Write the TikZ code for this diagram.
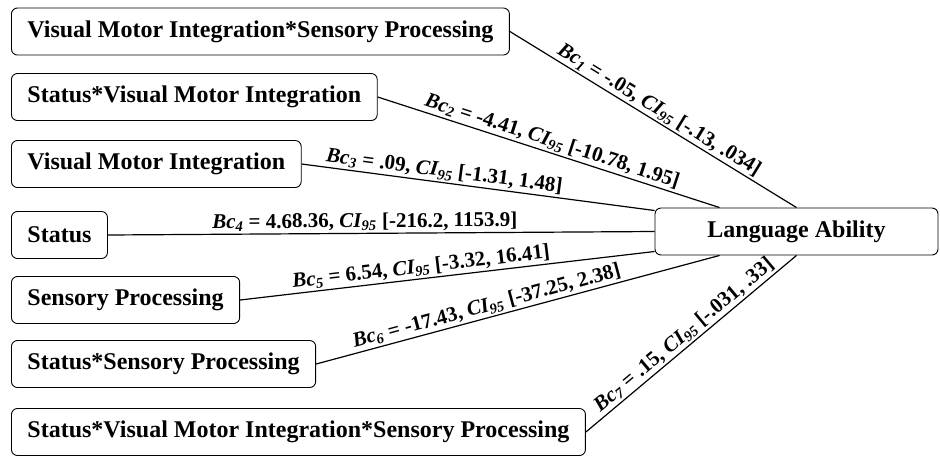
\documentclass[tikz,border=0pt]{standalone}
\usepackage{fontspec}
\setmainfont{Liberation Serif}
\newcommand{\bcval}[1]{\textit{Bc\textsubscript{#1}}}
\newcommand{\cinf}{\textit{CI\textsubscript{95}}}
\begin{document}
\begin{tikzpicture}[x=1pt,y=-1pt,
	predbox/.style={draw,line width=0.9pt,rounded corners=6pt,anchor=west,minimum height=47pt,inner xsep=16pt,font=\fontsize{24}{26}\selectfont\bfseries},
	path/.style={line width=1.2pt},
	lbl/.style={sloped,above,inner sep=2pt,font=\fontsize{21}{23}\selectfont\bfseries}]
	\useasboundingbox (0,0) rectangle (940,459);
	\node[predbox] (vmisp) at (11,31.5) {Visual Motor Integration*Sensory Processing};
	\node[predbox] (stvmi) at (11,97) {Status*Visual Motor Integration};
	\node[predbox] (vmi) at (11,164) {Visual Motor Integration};
	\node[predbox] (status) at (11,235) {Status};
	\node[predbox] (sp) at (11,300) {Sensory Processing};
	\node[predbox] (stsp) at (11,364) {Status*Sensory Processing};
	\node[predbox] (stvmisp) at (11,432) {Status*Visual Motor Integration*Sensory Processing};
	\node[predbox,anchor=center,minimum width=283pt] (lang) at (796.5,231.5) {Language Ability};
	% paths into language ability
	\draw[path] (vmisp.east) -- (lang.north) node[lbl,pos=0.5]{\bcval{1} = -.05, \cinf{} [-.13, .034]};
	\draw[path] (stvmi.east) -- ([xshift=65pt]lang.north west) node[lbl,pos=0.5]{\bcval{2} = -4.41, \cinf{} [-10.78, 1.95]};
	\draw[path] (vmi.east) -- ([yshift=21pt]lang.west) node[lbl,pos=0.4]{\bcval{3} = .09, \cinf{} [-1.31, 1.48]};
	\draw[path] (status.east) -- (lang.west) node[lbl,pos=0.47]{\bcval{4} = 4.68.36, \cinf{} [-216.2, 1153.9]};
	\draw[path] (sp.east) -- ([yshift=-20pt]lang.west) node[lbl,pos=0.44]{\bcval{5} = 6.54, \cinf{} [-3.32, 16.41]};
	\draw[path] (stsp.east) -- ([xshift=65pt]lang.south west) node[lbl,pos=0.43]{\bcval{6} = -17.43, \cinf{} [-37.25, 2.38]};
	\draw[path] (stvmisp.east) -- (lang.south) node[lbl,pos=0.5]{\bcval{7} = .15, \cinf{} [-.031, .33]};
\end{tikzpicture}
\end{document}
